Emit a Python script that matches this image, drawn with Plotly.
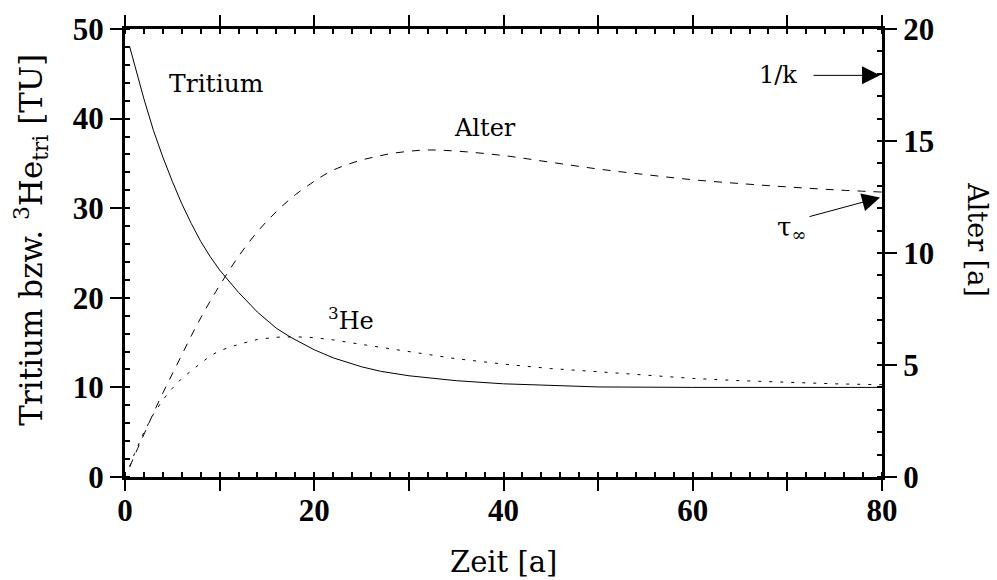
import plotly.graph_objects as go

# ---- data ----
t_tri = [0.5, 1, 2, 3, 4, 5, 6, 7, 8, 9, 10, 12, 14, 16, 17.5, 20, 22, 25, 27, 30, 35, 40, 45, 50, 60, 70, 80]
tritium = [48.0, 46.0, 42.2, 38.7, 35.7, 33.0, 30.5, 28.3, 26.3, 24.6, 23.1, 20.6, 18.4, 16.6, 15.6, 14.2,
           13.3, 12.3, 11.8, 11.3, 10.75, 10.4, 10.2, 10.05, 10.0, 10.0, 10.0]

t_he = [0.5, 1, 2, 3, 4, 5, 6, 7, 8, 9, 10, 12, 14, 16, 18, 20, 22, 25, 30, 35, 40, 45, 50, 55, 60, 65, 70, 75, 80]
helium3 = [1.2, 2.6, 5.0, 7.0, 8.6, 9.9, 11.0, 11.9, 12.7, 13.5, 14.1, 14.8, 15.35, 15.6, 15.65, 15.55,
           15.3, 14.8, 14.0, 13.2, 12.6, 12.1, 11.75, 11.35, 11.0, 10.75, 10.55, 10.4, 10.3]

t_age = [0.5, 1, 2, 3, 4, 5, 6, 7, 8, 9, 10, 12, 14, 16, 18, 20, 21, 22, 23.5, 25, 26.5, 28, 30, 32, 35,
         40, 45, 50, 55, 60, 65, 70, 75, 80]
alter = [0.45, 0.95, 1.9, 2.85, 3.75, 4.6, 5.45, 6.3, 7.1, 7.85, 8.55, 9.85, 10.95, 11.85, 12.6, 13.2,
         13.47, 13.7, 13.95, 14.15, 14.3, 14.43, 14.54, 14.6, 14.55, 14.35, 14.05, 13.75, 13.5, 13.27,
         13.1, 12.95, 12.82, 12.72]

x_major = [0, 10, 20, 30, 40, 50, 60, 70, 80]
x_labels = ["0", "", "20", "", "40", "", "60", "", "80"]
yl_major = [0, 10, 20, 30, 40, 50]
yr_major = [0, 5, 10, 15, 20]
inv_k = 17.93      # 1/k
tau_inf = 12.5     # tau_infinity

SERIF = "DejaVu Serif"
TICKF = dict(family="Liberation Serif", size=31, color="black", weight="bold")

fig = go.Figure()
fig.add_trace(go.Scatter(x=t_tri, y=tritium, mode="lines", line=dict(color="black", width=1),
                         yaxis="y", showlegend=False))
fig.add_trace(go.Scatter(x=t_he, y=helium3, mode="lines",
                         line=dict(color="black", width=1, dash="3px,8px"), yaxis="y", showlegend=False))
fig.add_trace(go.Scatter(x=t_age, y=alter, mode="lines", line_shape="spline",
                         line=dict(color="black", width=1, dash="8px,8px"), yaxis="y2", showlegend=False))

axis_common = dict(showgrid=False, zeroline=False, tickcolor="black", tickwidth=2)

fig.update_layout(
    width=997, height=580,
    margin=dict(l=125, r=115, t=22, b=103),
    paper_bgcolor="white", plot_bgcolor="white",
    xaxis=dict(range=[0, 80], tickmode="array", tickvals=x_major, ticktext=x_labels,
               ticks="outside", ticklen=11, showline=True, linecolor="black", linewidth=3,
               mirror="ticks", tickfont=TICKF, ticklabelstandoff=-7,
               minor=dict(dtick=2, tick0=0, ticks="inside", ticklen=5, tickwidth=2, tickcolor="black"),
               **axis_common),
    xaxis2=dict(range=[0, 80], overlaying="x", side="bottom", anchor="y", tickmode="array",
                tickvals=x_major, ticks="inside", ticklen=11, showticklabels=False, showline=False,
                mirror="ticks", **axis_common),
    yaxis=dict(range=[0, 50], tickmode="array", tickvals=yl_major, ticks="outside", ticklen=12,
               showline=True, linecolor="black", linewidth=3, tickfont=TICKF,
               minor=dict(dtick=2, tick0=0, ticks="inside", ticklen=5, tickwidth=2, tickcolor="black"),
               **axis_common),
    yaxis3=dict(range=[0, 50], overlaying="y", side="left", anchor="x", tickmode="array",
                tickvals=yl_major, ticks="inside", ticklen=12, showticklabels=False, showline=False,
                **axis_common),
    yaxis2=dict(range=[0, 20], overlaying="y", side="right", anchor="x", tickmode="array",
                tickvals=yr_major, ticks="outside", ticklen=12, showline=True, linecolor="black",
                linewidth=3, tickfont=TICKF,
                minor=dict(dtick=1, tick0=0, ticks="inside", ticklen=5, tickwidth=2, tickcolor="black"),
                **axis_common),
    yaxis4=dict(range=[0, 20], overlaying="y", side="right", anchor="x", tickmode="array",
                tickvals=yr_major, ticks="inside", ticklen=12, showticklabels=False, showline=False,
                **axis_common),
)

ann = []
# axis titles
ann.append(dict(text="Zeit [a]", xref="paper", yref="paper", x=0.5, y=-0.19, yanchor="middle",
                showarrow=False, font=dict(family=SERIF, size=29, color="black")))
ann.append(dict(text="Tritium bzw. <sup>3</sup>He<sub>tri</sub> [TU]", xref="paper", yref="paper",
                x=-0.124, y=0.53, xanchor="center", yanchor="middle", textangle=-90, showarrow=False,
                font=dict(family=SERIF, size=31, color="black")))
ann.append(dict(text="Alter [a]", xref="paper", yref="paper", x=1.126, y=0.53, xanchor="center",
                yanchor="middle", textangle=90, showarrow=False,
                font=dict(family=SERIF, size=27, color="black")))
# curve labels
ann.append(dict(text="Tritium", x=9.7, y=43.9, xref="x", yref="y", showarrow=False,
                font=dict(family=SERIF, size=25, color="black")))
ann.append(dict(text="Alter", x=38.0, y=38.9, xref="x", yref="y", showarrow=False,
                font=dict(family=SERIF, size=24, color="black")))
ann.append(dict(text="<sup>3</sup>He", x=23.9, y=17.6, xref="x", yref="y", showarrow=False,
                font=dict(family=SERIF, size=24, color="black")))
ann.append(dict(text="1/k", x=69.0, y=inv_k, xref="x", yref="y2", showarrow=False,
                font=dict(family=SERIF, size=24, color="black")))
ann.append(dict(text="τ<sub>∞</sub>", x=70.5, y=11.1, xref="x", yref="y2", showarrow=False,
                font=dict(family=SERIF, size=26, color="black")))
# arrows
ann.append(dict(text="", x=80, y=inv_k, xref="x", yref="y2", showarrow=True, ax=-70, ay=0,
                arrowhead=2, arrowsize=3.6, arrowwidth=1, arrowcolor="black", standoff=2))
ann.append(dict(text="", x=80, y=tau_inf, xref="x", yref="y2", showarrow=True, ax=-74, ay=20,
                arrowhead=2, arrowsize=3.6, arrowwidth=1, arrowcolor="black", standoff=2))
fig.update_layout(annotations=ann)

fig.write_html("out.html", config={"displayModeBar": False},
               post_script="document.body.style.margin='0';")
